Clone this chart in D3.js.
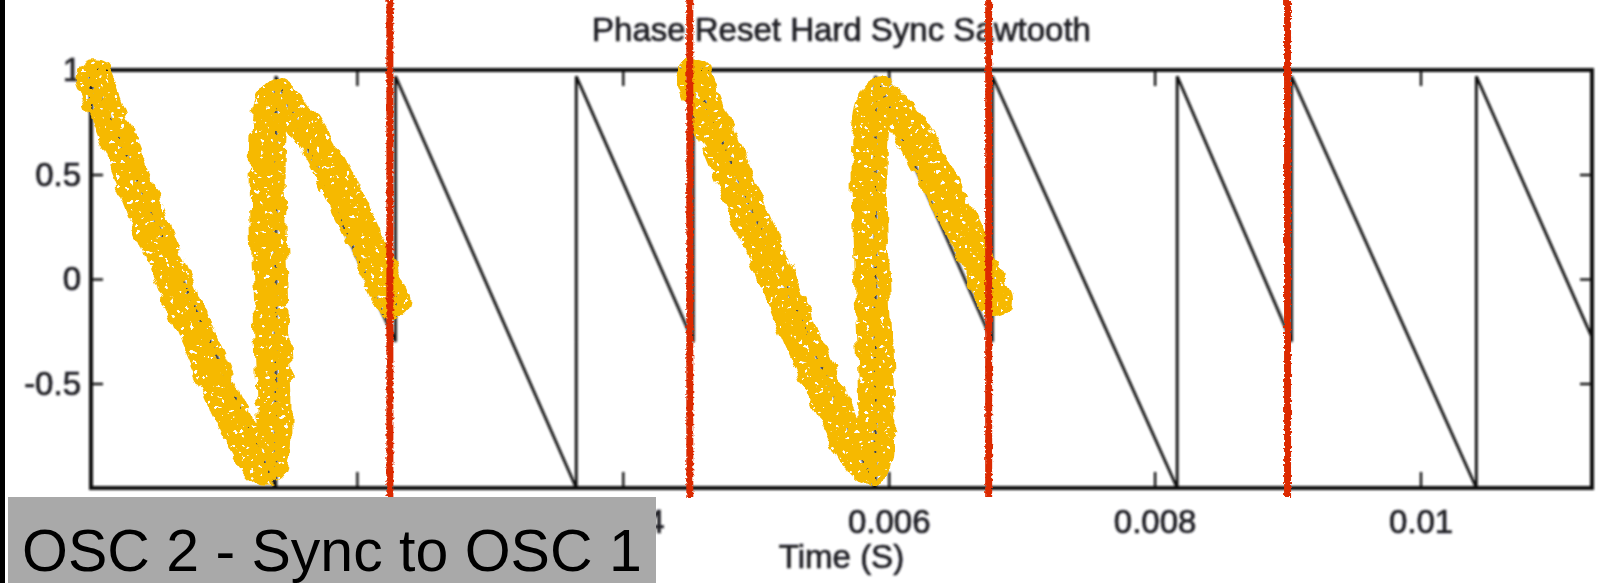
<!DOCTYPE html>
<html><head><meta charset="utf-8">
<script src="https://cdn.jsdelivr.net/npm/d3@7/dist/d3.min.js"></script>
<style>html,body{margin:0;padding:0;background:#fff;overflow:hidden}svg{display:block}</style>
</head><body>
<svg id="c" width="1605" height="583"></svg>
<script>
// ---- data ----
const titleText = "Phase Reset Hard Sync Sawtooth";
const xLabelText = "Time (S)";
const boxText = "OSC 2 - Sync to OSC 1";
const xTickValues = [0, 0.002, 0.004, 0.006, 0.008, 0.01];
const xTickLabels = ["", "", "0.004", "0.006", "0.008", "0.01"];   // first two hidden under the caption box
const yTickValues = [-1, -0.5, 0, 0.5, 1];
const yTickLabels = ["", "-0.5", "0", "0.5", "1"];
// hard-synced sawtooth vertices (time s, amplitude)
const sawTime = [0, 0.00139, 0.00139, 0.00229, 0.00229, 0.00365, 0.00365, 0.00453, 0.00453, 0.00590, 0.00590, 0.00678, 0.00678, 0.00817, 0.00817, 0.00903, 0.00903, 0.01042, 0.01042, 0.01129];
const sawAmp  = [0.97, -1, 0.97, -0.30, 0.97, -1, 0.97, -0.30, 0.97, -1, 0.97, -0.30, 0.97, -1, 0.97, -0.30, 0.97, -1, 0.97, -0.28];
// master (OSC 1) reset marks
const syncTimes = [0.002248, 0.004504, 0.006752, 0.009];
// yellow marker scribbles (time s, amplitude)
const scribbleATime = [0.00002, 0.00124, 0.00134, 0.00141, 0.00226];
const scribbleAAmp  = [0.96, -0.86, -0.90, 0.88, -0.10];
const scribbleBTime = [0.00453, 0.00578, 0.00587, 0.00594, 0.00680];
const scribbleBAmp  = [0.97, -0.86, -0.90, 0.88, -0.10];

// ---- layout ----
const W = 1605, H = 583;
const L = 91, R = 1592, T = 70, B = 488;
const svg = d3.select("#c");
const x = d3.scaleLinear().domain([0, 0.01129]).range([L, R]);
const y = d3.scaleLinear().domain([-1, 1]).range([B, T]);

const defs = svg.append("defs");
defs.append("filter").attr("id","soft").attr("x","-5%").attr("y","-5%").attr("width","110%").attr("height","110%")
  .append("feGaussianBlur").attr("stdDeviation", 0.8);
const fm = defs.append("filter").attr("id","marker").attr("x","-20%").attr("y","-10%").attr("width","140%").attr("height","120%");
fm.append("feTurbulence").attr("type","fractalNoise").attr("baseFrequency",0.07).attr("numOctaves",2).attr("seed",3).attr("result","noise");
fm.append("feDisplacementMap").attr("in","SourceGraphic").attr("in2","noise").attr("scale",12)
  .attr("xChannelSelector","R").attr("yChannelSelector","G").attr("result","disp");
fm.append("feTurbulence").attr("type","fractalNoise").attr("baseFrequency",0.2).attr("numOctaves",2).attr("seed",11).attr("result","n2");
fm.append("feColorMatrix").attr("in","n2").attr("type","matrix")
  .attr("values","0 0 0 0 0  0 0 0 0 0  0 0 0 0 0  -24 0 0 0 17.3").attr("result","mask");
fm.append("feComposite").attr("in","disp").attr("in2","mask").attr("operator","in");
const fr = defs.append("filter").attr("id","rough").attr("x","-100%").attr("y","-2%").attr("width","300%").attr("height","104%");
fr.append("feTurbulence").attr("type","fractalNoise").attr("baseFrequency",0.35).attr("numOctaves",2).attr("seed",5).attr("result","noise");
fr.append("feDisplacementMap").attr("in","SourceGraphic").attr("in2","noise").attr("scale",4)
  .attr("xChannelSelector","R").attr("yChannelSelector","G");

svg.append("rect").attr("width",W).attr("height",H).attr("fill","#fff");

const chart = svg.append("g").attr("filter","url(#soft)");
const textColor = "#1e1e24";
const font = "'Liberation Sans', Arial, Helvetica, sans-serif";
const heavy = sel => sel.attr("stroke",textColor).attr("stroke-width",0.7);

// title
chart.append("text").attr("x",(L+R)/2).attr("y",41).attr("text-anchor","middle")
  .attr("font-family",font).attr("font-size",33).attr("fill",textColor).call(heavy).text(titleText);

// axes with inward ticks
const fmtX = d => xTickLabels[xTickValues.indexOf(d)];
const fmtY = d => yTickLabels[yTickValues.indexOf(d)];
const styleAxis = g => {
  g.select(".domain").remove();
  g.selectAll(".tick line").attr("stroke","#111").attr("stroke-width",2.4);
  g.selectAll("text").attr("font-family",font).attr("font-size",33).attr("fill",textColor).call(heavy);
};
chart.append("g").attr("transform",`translate(0,${B})`)
  .call(d3.axisBottom(x).tickValues(xTickValues).tickFormat(fmtX).tickSize(-16).tickPadding(22))
  .call(styleAxis);
chart.append("g").attr("transform",`translate(0,${T})`)
  .call(d3.axisTop(x).tickValues(xTickValues).tickFormat("").tickSize(-16))
  .call(styleAxis);
chart.append("g").attr("transform",`translate(${L},0)`)
  .call(d3.axisLeft(y).tickValues(yTickValues).tickFormat(fmtY).tickSize(-12).tickPadding(10))
  .call(styleAxis);
chart.append("g").attr("transform",`translate(${R},0)`)
  .call(d3.axisRight(y).tickValues(yTickValues).tickFormat("").tickSize(-12))
  .call(styleAxis);

// x label
chart.append("text").attr("x",(L+R)/2).attr("y",568).attr("text-anchor","middle")
  .attr("font-family",font).attr("font-size",33).attr("fill",textColor).call(heavy).text(xLabelText);

// waveform
const sawData = sawTime.map((t,i)=>({t, a: sawAmp[i]}));
chart.append("path").datum(sawData)
  .attr("d", d3.line().x(d=>x(d.t)).y(d=>y(d.a)))
  .attr("fill","none").attr("stroke","#111").attr("stroke-width",2.8).attr("stroke-linejoin","miter");

// frame
chart.append("rect").attr("x",L).attr("y",T).attr("width",R-L).attr("height",B-T)
  .attr("fill","none").attr("stroke","#111").attr("stroke-width",4);

// yellow scribbles
const scribbles = [
  scribbleATime.map((t,i)=>({t, a: scribbleAAmp[i]})),
  scribbleBTime.map((t,i)=>({t, a: scribbleBAmp[i]}))
];
const sline = d3.line().x(d=>x(d.t)).y(d=>y(d.a)).curve(d3.curveCatmullRom.alpha(0.5));
svg.append("g").attr("filter","url(#marker)").selectAll("path").data(scribbles).join("path")
  .attr("d", d => sline(d))
  .attr("fill","none").attr("stroke","#f6b900").attr("stroke-width",36)
  .attr("stroke-linecap","round").attr("stroke-linejoin","round");

// red sync lines
svg.append("g").attr("filter","url(#rough)").selectAll("line").data(syncTimes).join("line")
  .attr("x1", d=>x(d)).attr("x2", d=>x(d)).attr("y1", 0).attr("y2", 497)
  .attr("stroke","#dc2a00").attr("stroke-width",7);

// left black strip and grey caption box
svg.append("rect").attr("x",0).attr("y",0).attr("width",5).attr("height",H).attr("fill","#000");
svg.append("rect").attr("x",8).attr("y",497).attr("width",648).attr("height",H-497).attr("fill","#a9a9a9");
svg.append("text").attr("x",22).attr("y",571).attr("font-family",font).attr("font-size",59)
  .attr("fill","#000").text(boxText);
</script>
</body></html>
